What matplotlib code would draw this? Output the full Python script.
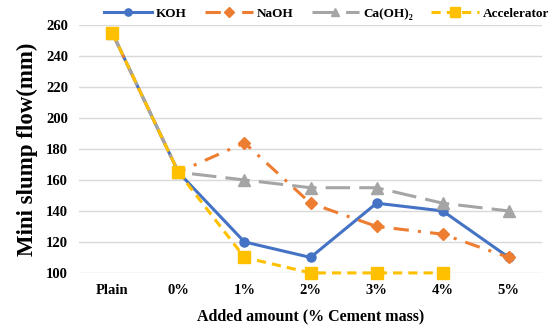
import matplotlib.pyplot as plt

plt.rcParams['font.family'] = ['Liberation Serif', 'DejaVu Serif']
plt.rcParams['font.weight'] = 'bold'

categories = ['Plain', '0%', '1%', '2%', '3%', '4%', '5%']
koh = [255, 165, 120, 110, 145, 140, 110]
naoh = [255, 165, 184, 145, 130, 125, 110]
caoh2 = [255, 165, 160, 155, 155, 145, 140]
accel = [255, 165, 110, 100, 100, 100, None]

fig = plt.figure(figsize=(5.58, 3.3), dpi=100)
ax = fig.add_axes([0.142, 0.173, 0.829, 0.751])

x = list(range(len(categories)))
ax.plot(x, koh, color='#4472C4', lw=2.2, marker='o', ms=6.5, label='KOH', clip_on=False, zorder=3)
ax.plot(x, naoh, color='#ED7D31', lw=2.2, ls=(0, (5, 3, 1, 3)), marker='D', ms=6.5,
        label='NaOH', clip_on=False, zorder=3)
ax.plot(x, caoh2, color='#A5A5A5', lw=2.2, ls=(0, (8, 3)), marker='^', ms=8,
        label='Ca(OH)₂', clip_on=False, zorder=3)
x_acc = [i for i, v in zip(x, accel) if v is not None]
y_acc = [v for v in accel if v is not None]
ax.plot(x_acc, y_acc, color='#FFC000', lw=2.2, ls=(0, (3, 2)), marker='s', ms=8.5,
        label='Accelerator', clip_on=False, zorder=4)

ax.set_xlim(-0.5, len(categories) - 0.5)
ax.set_ylim(100, 260)
ax.set_yticks(range(100, 261, 20))
ax.set_xticks(x)
ax.set_xticklabels(categories)
ax.tick_params(length=0, labelsize=10.5, pad=8)
ax.grid(axis='y', color='#D9D9D9', lw=1)
ax.set_axisbelow(True)
for s in ax.spines.values():
    s.set_visible(False)

ax.set_ylabel('Mini slump flow(mm)', fontsize=16.5, fontweight='bold', labelpad=6)
ax.set_xlabel('Added amount (% Cement mass)', fontsize=11.5, fontweight='bold', labelpad=8)

ax.legend(loc='center', bbox_to_anchor=(0.535, 1.045), ncol=4, frameon=False,
          fontsize=9.5, handlelength=3.6, columnspacing=1.4, handletextpad=0.3,
          borderaxespad=0, markerscale=0.8)

fig.savefig('out.png', dpi=100)
